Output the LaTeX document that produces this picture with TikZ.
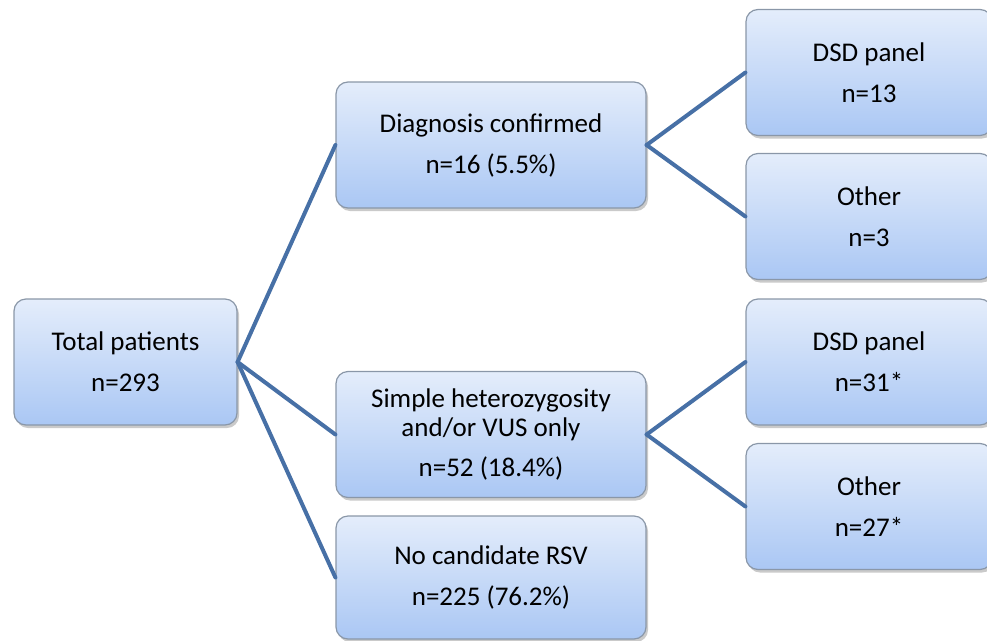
\documentclass[tikz,border=0pt]{standalone}
\usepackage{fontspec}
\setmainfont{Carlito}
\usetikzlibrary{shadows}
\definecolor{boxtop}{HTML}{E4EDFB}
\definecolor{boxbot}{HTML}{AAC7F4}
\definecolor{boxedge}{HTML}{8A97A8}
\definecolor{linkc}{HTML}{4770A6}
\tikzset{
  box/.style={draw=boxedge, line width=1.2pt, rounded corners=12pt,
    top color=boxtop, bottom color=boxbot, align=center,
    font=\fontsize{27}{41}\selectfont, text=black,
    drop shadow={shadow xshift=2pt, shadow yshift=-3pt, opacity=0.35, fill=black!60},
    inner sep=0pt},
  midbox/.style={box, minimum width=310pt, minimum height=126pt},
  rightbox/.style={box, minimum width=246pt, minimum height=126pt},
  link/.style={draw=linkc, line width=4pt, line cap=round}
}
\begin{document}
\begin{tikzpicture}[x=1pt,y=-1pt]
\useasboundingbox (0,0) rectangle (987,640);
\node[box, minimum width=223pt, minimum height=126pt] (total) at (125.5,362) {Total patients\\n=293};
\node[midbox] (diag) at (491,145) {Diagnosis confirmed\\n=16 (5.5\%)};
\node[midbox, font=\fontsize{27}{29}\selectfont] (simple) at (491,434.5) {Simple heterozygosity\\and/or VUS only\\[11pt]n=52 (18.4\%)};
\node[midbox, minimum height=123pt] (nocand) at (491,577.5) {No candidate RSV\\n=225 (76.2\%)};
\node[rightbox] (dsd1) at (869,72.5) {DSD panel\\n=13};
\node[rightbox] (oth1) at (869,216.5) {Other\\n=3};
\node[rightbox] (dsd2) at (869,362) {DSD panel\\n=31*};
\node[rightbox] (oth2) at (869,506.5) {Other\\n=27*};
\coordinate (hub) at (total.east);
\draw[link] (hub) -- (diag.west);
\draw[link] (hub) -- (simple.west);
\draw[link] (hub) -- (nocand.west);
\draw[link] (diag.east) -- (dsd1.west);
\draw[link] (diag.east) -- (oth1.west);
\draw[link] (simple.east) -- (dsd2.west);
\draw[link] (simple.east) -- (oth2.west);
\end{tikzpicture}
\end{document}
